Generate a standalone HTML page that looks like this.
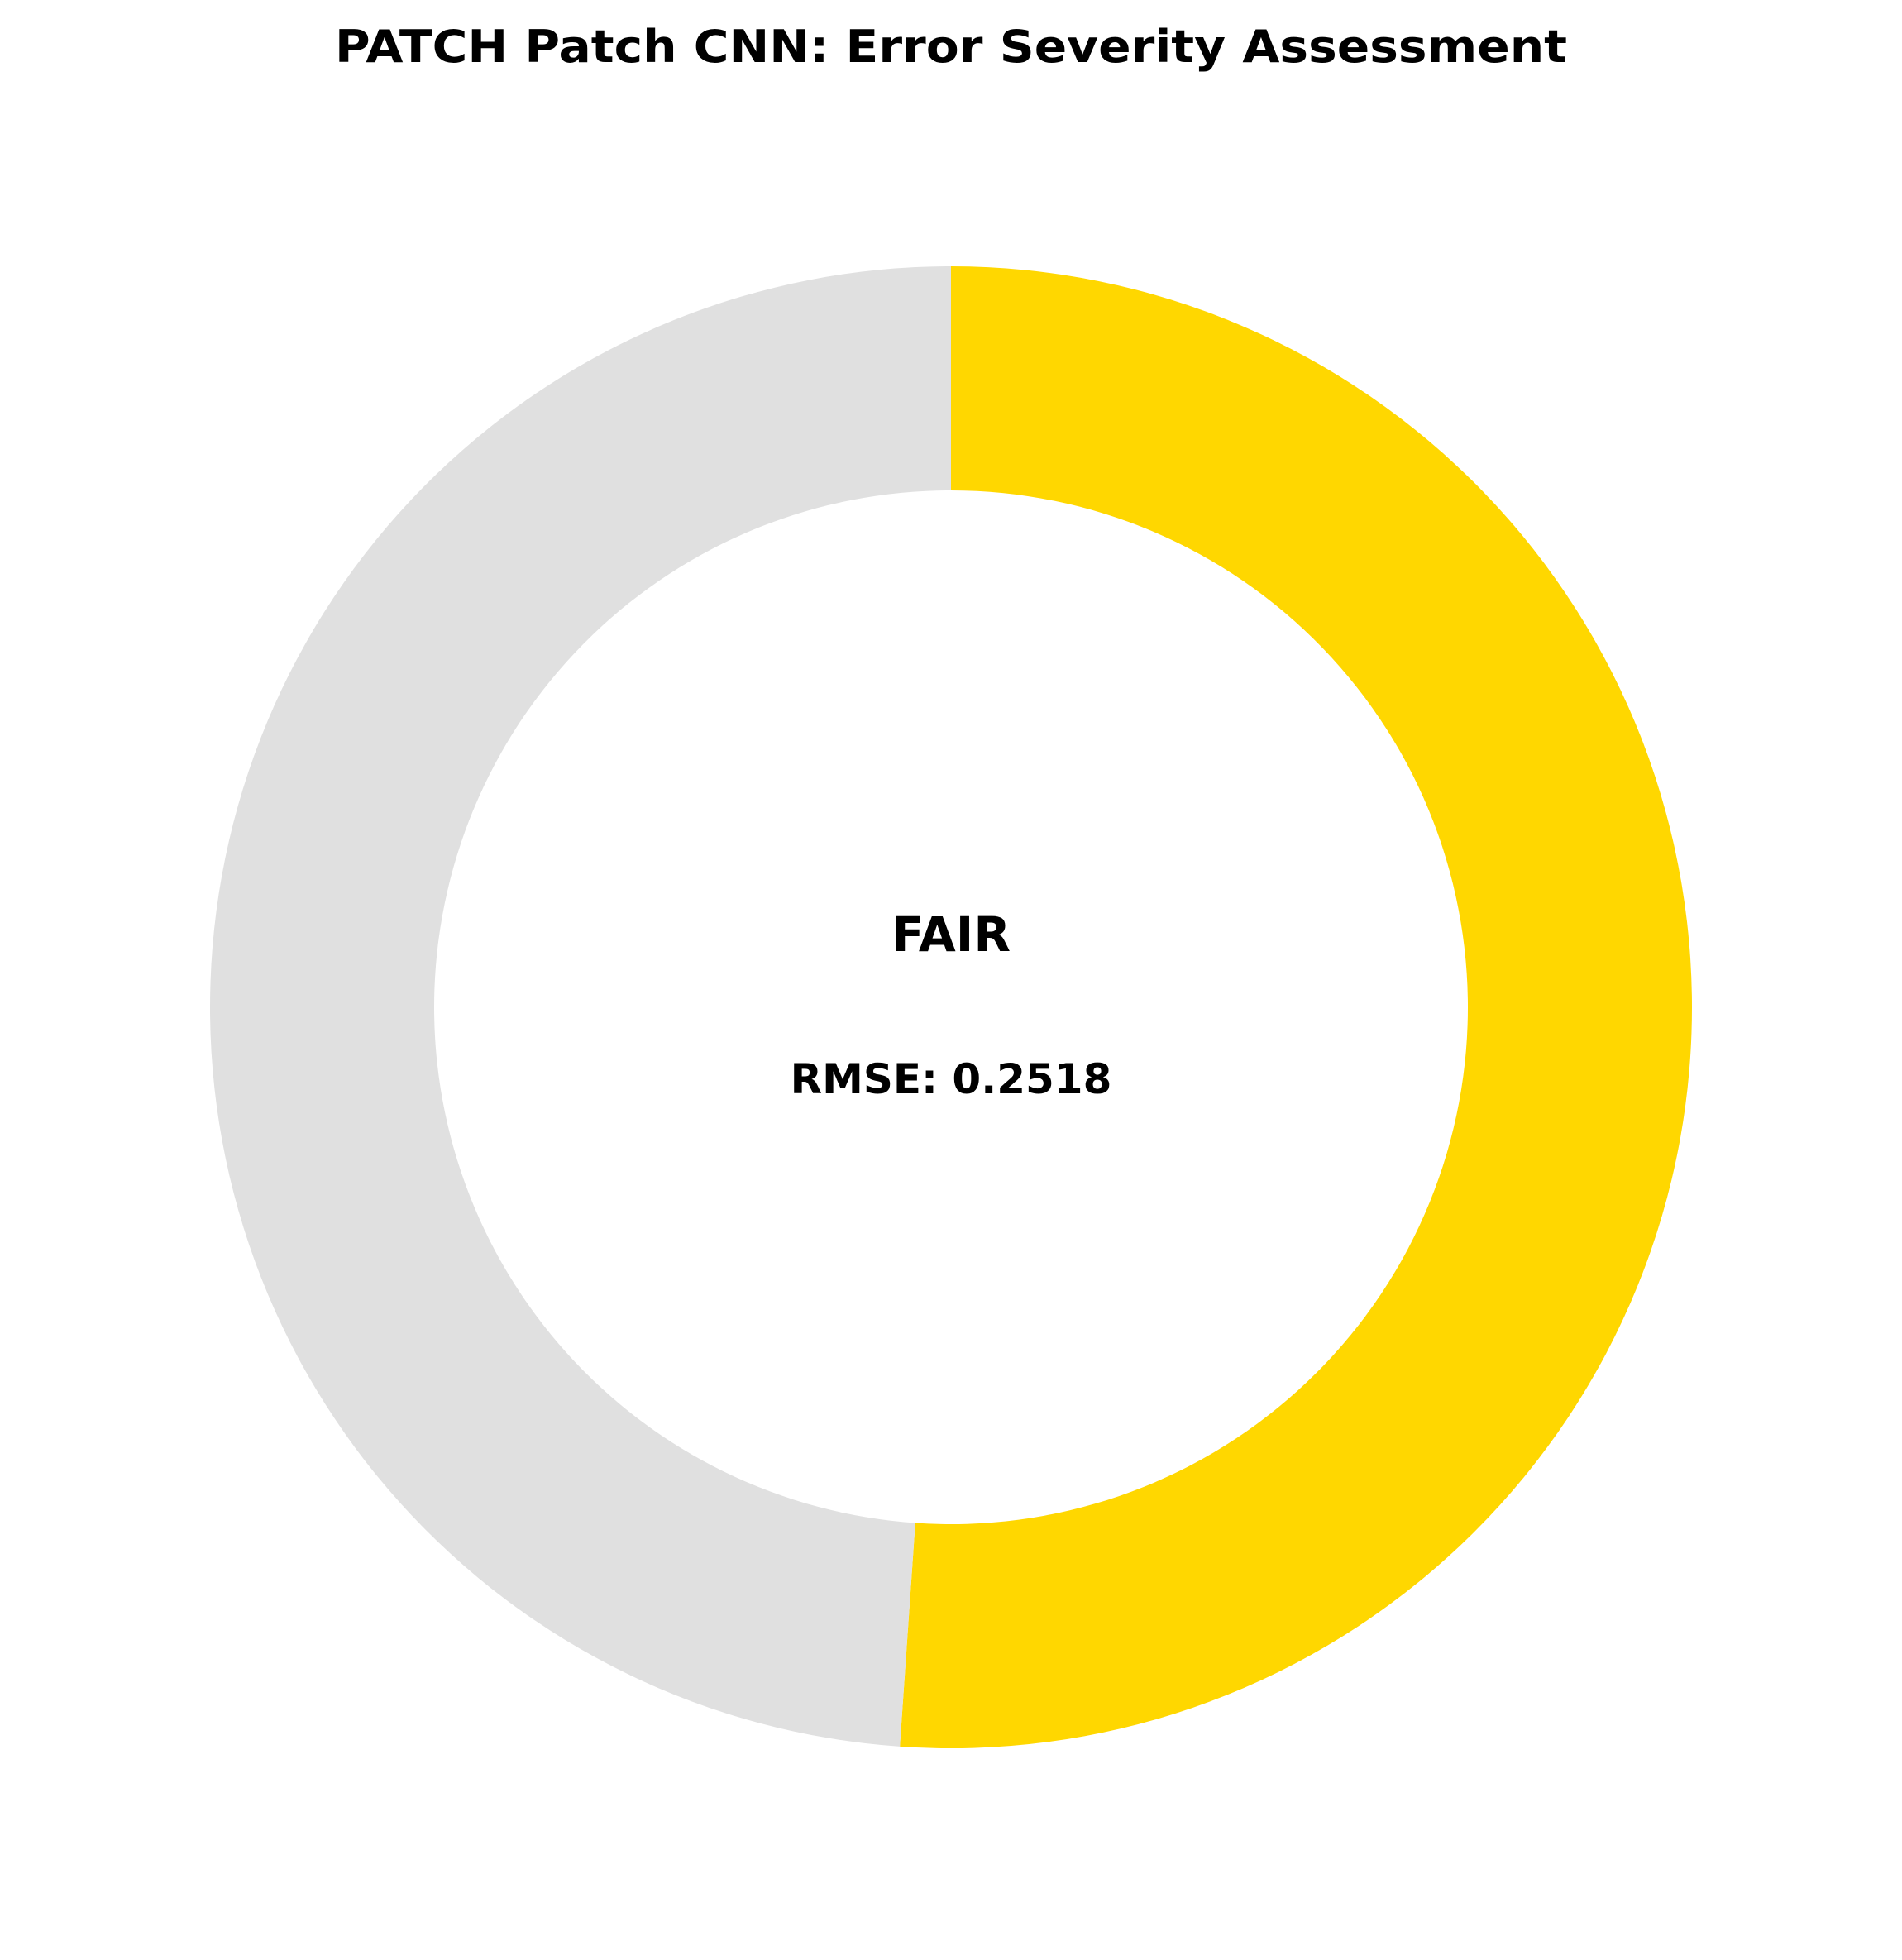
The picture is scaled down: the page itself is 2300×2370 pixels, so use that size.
<!DOCTYPE html>
<html><head><meta charset="utf-8"><style>html,body{margin:0;padding:0;background:#fff}svg{display:block}</style></head>
<body>
<svg id="chart" width="2300" height="2370" viewBox="0 0 2300 2370" xmlns="http://www.w3.org/2000/svg">
<rect width="2300" height="2370" fill="#fff"/>
<text x="1150" y="75" text-anchor="middle" font-family="DejaVu Sans, Liberation Sans, sans-serif" font-weight="bold" font-size="54" textLength="1490" lengthAdjust="spacingAndGlyphs">PATCH Patch CNN: Error Severity Assessment</text>
<g id="slices"></g>
<text x="1150" y="1150" text-anchor="middle" font-family="DejaVu Sans, Liberation Sans, sans-serif" font-weight="bold" font-size="58">FAIR</text>
<text x="1150" y="1322" text-anchor="middle" font-family="DejaVu Sans, Liberation Sans, sans-serif" font-weight="bold" font-size="50">RMSE: 0.2518</text>
</svg>
<script>
const categories = ["score", "remainder"];
const values = [0.511, 0.489];
const colors = ["#FFD700", "#E0E0E0"];
const cx = 1150, cy = 1218, R = 896, r = 625;
const g = document.getElementById('slices');
const total = values.reduce((a, b) => a + b, 0);
let start = 0;
function pt(rad, frac) {
  const a = frac * 2 * Math.PI;
  return [cx + rad * Math.sin(a), cy - rad * Math.cos(a)];
}
values.forEach((v, i) => {
  const end = start + v / total;
  const large = (end - start) > 0.5 ? 1 : 0;
  const [x1, y1] = pt(R, start), [x2, y2] = pt(R, end);
  const [x3, y3] = pt(r, end), [x4, y4] = pt(r, start);
  const p = document.createElementNS('http://www.w3.org/2000/svg', 'path');
  p.setAttribute('d', `M${x1},${y1} A${R},${R} 0 ${large} 1 ${x2},${y2} L${x3},${y3} A${r},${r} 0 ${large} 0 ${x4},${y4} Z`);
  p.setAttribute('fill', colors[i]);
  
  
  g.appendChild(p);
  start = end;
});
</script>
</body></html>
